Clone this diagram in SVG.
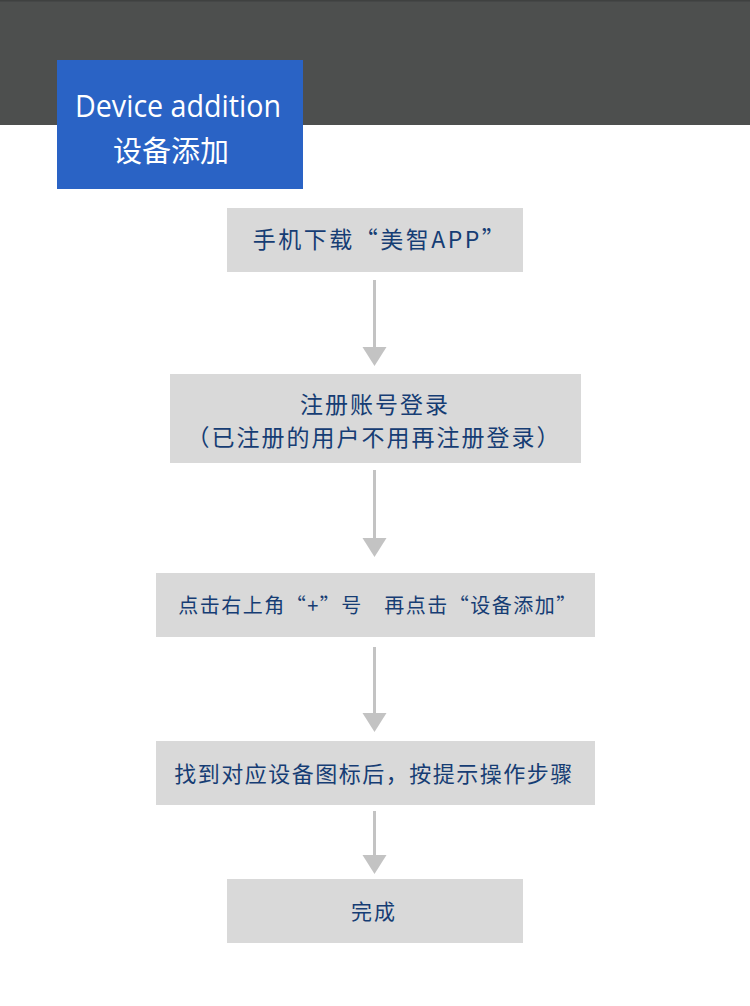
<svg xmlns="http://www.w3.org/2000/svg" width="750" height="1006" viewBox="0 0 750 1006">
<defs>
<style>
.box{fill:#d9d9d9}
.t{font-family:"Noto Sans CJK SC","Noto Sans",sans-serif;font-size:23px;fill:#163d74;text-anchor:middle;letter-spacing:2px}
.conn{stroke:#c3c3c3;stroke-width:3;fill:none}
.head{fill:#c3c3c3}
</style>
</defs>
<rect x="0" y="0" width="750" height="1006" fill="#ffffff"/>
<rect x="0" y="0" width="750" height="125" fill="#4d4f4e"/>
<rect x="0" y="0" width="750" height="1.5" fill="#3f4140"/>
<g id="title">
<rect x="57" y="60" width="246" height="129" fill="#2a63c5"/>
<text x="178" y="117" font-family="Open Sans,'Noto Sans',sans-serif" font-size="31" fill="#ffffff" text-anchor="middle" textLength="206" lengthAdjust="spacingAndGlyphs">Device addition</text>
<text x="171" y="162" font-family="'Noto Sans CJK SC',sans-serif" font-size="29" fill="#ffffff" text-anchor="middle">设备添加</text>
</g>
<g id="connectors">
<line class="conn" x1="374.5" y1="280" x2="374.5" y2="349"/>
<polygon class="head" points="362.5,347 386.5,347 374.5,366"/>
<line class="conn" x1="374.5" y1="470" x2="374.5" y2="540"/>
<polygon class="head" points="362.5,538 386.5,538 374.5,557"/>
<line class="conn" x1="374.5" y1="647" x2="374.5" y2="715"/>
<polygon class="head" points="362.5,713 386.5,713 374.5,732"/>
<line class="conn" x1="374.5" y1="811" x2="374.5" y2="857"/>
<polygon class="head" points="362.5,855 386.5,855 374.5,874"/>
</g>
<g id="n1">
<rect class="box" x="227" y="208" width="296" height="64"/>
<text class="t" x="380" y="248" style="letter-spacing:2.5px">手机下载“美智APP”</text>
</g>
<g id="n2">
<rect class="box" x="170" y="374" width="411" height="89"/>
<text class="t" x="375" y="413">注册账号登录</text>
<text class="t" x="374" y="446">（已注册的用户不用再注册登录）</text>
</g>
<g id="n3">
<rect class="box" x="156" y="573" width="439" height="64"/>
<text class="t" x="378" y="613" style="font-size:20px;letter-spacing:1.5px">点击右上角“+”号　再点击“设备添加”</text>
</g>
<g id="n4">
<rect class="box" x="156" y="741" width="439" height="64"/>
<text class="t" x="374" y="782" style="font-size:22px;letter-spacing:1.5px">找到对应设备图标后，按提示操作步骤</text>
</g>
<g id="n5">
<rect class="box" x="227" y="879" width="296" height="64"/>
<text class="t" x="374" y="919" style="font-size:21px">完成</text>
</g>
</svg>
